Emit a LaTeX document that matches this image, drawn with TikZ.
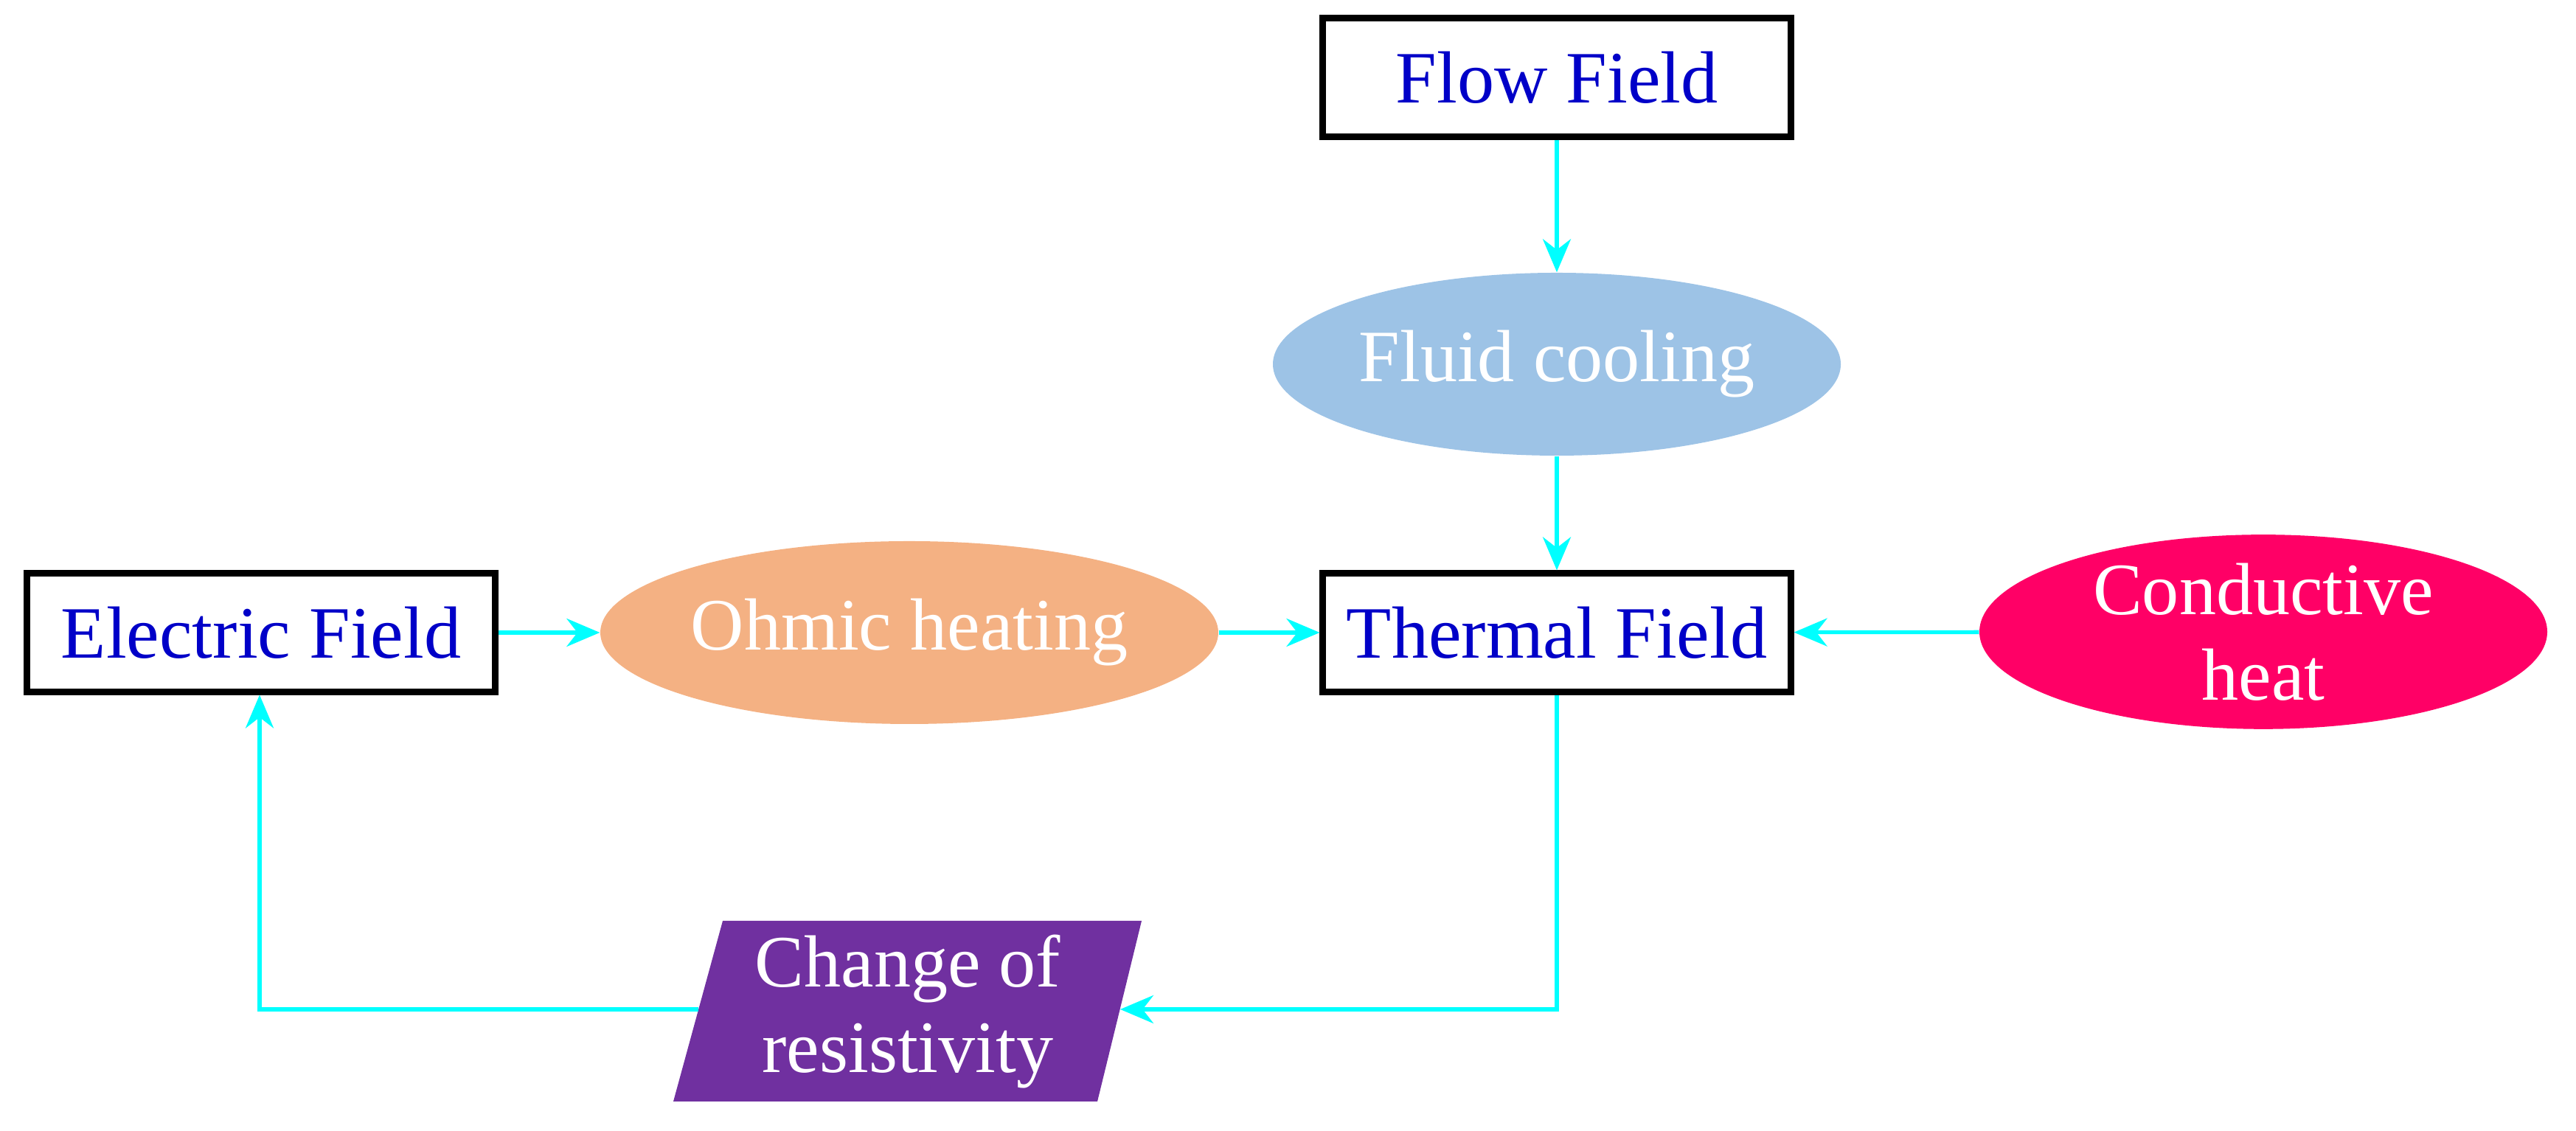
\documentclass[tikz,border=0pt]{standalone}
\usepackage{fontspec}
\setmainfont{Liberation Serif}
\usetikzlibrary{shapes.geometric,arrows.meta}
\definecolor{txtblue}{RGB}{0,0,200}
\definecolor{fluid}{RGB}{157,195,230}
\definecolor{ohmic}{RGB}{244,177,131}
\definecolor{cond}{RGB}{255,0,102}
\definecolor{purp}{RGB}{112,48,160}
\definecolor{conn}{RGB}{0,255,255}
\begin{document}
\begin{tikzpicture}[
  box/.style={draw=black,line width=2.3pt,fill=white,minimum width=6.35cm,minimum height=1.61cm,inner sep=0pt,text=txtblue,font=\fontsize{28.5}{32}\selectfont},
  ell/.style={ellipse,draw=none,minimum width=7.7cm,minimum height=2.48cm,inner sep=0pt,text=white,font=\fontsize{28.5}{32}\selectfont,align=center},
  arr/.style={draw=conn,line width=1.5pt,-{Stealth[length=0.45cm,width=0.38cm]}}
]
\useasboundingbox (0,0) rectangle (34.93,15.34);
\node[box] (flow) at (21.11,14.29) {Flow Field};
\node[ell,fill=fluid] (fluid) at (21.11,10.40) {Fluid cooling};
\node[box] (thermal) at (21.11,6.76) {Thermal Field};
\node[box] (electric) at (3.54,6.76) {Electric Field};
\node[ell,fill=ohmic] (ohmic) at (12.33,6.76) {Ohmic heating};
\node[ell,fill=cond,font=\fontsize{28.5}{33}\selectfont] (cond) at (30.69,6.77) {Conductive\\heat};
\coordinate (p1) at (9.80,2.85);
\coordinate (p2) at (15.48,2.85);
\coordinate (p3) at (14.88,0.40);
\coordinate (p4) at (9.13,0.40);
\fill[purp] (p1) -- (p2) -- (p3) -- (p4) -- cycle;
\node[text=white,align=center,font=\fontsize{28.5}{33}\selectfont] (change) at (12.31,1.62) {Change of\\resistivity};
\coordinate (pr) at (15.19,1.65);
\coordinate (pl) at (9.47,1.65);
\coordinate (c1) at (21.11,1.65);
\coordinate (c2) at (3.52,1.65);
\draw[arr] (flow) -- (fluid);
\draw[arr] (fluid) -- (thermal);
\draw[arr] (electric) -- (ohmic);
\draw[arr] (ohmic) -- (thermal);
\draw[arr] (cond) -- (thermal);
\draw[arr] (thermal.south) -- (c1) -- (pr);
\draw[arr] (pl) -- (c2) -- (electric.south -| c2);
\end{tikzpicture}
\end{document}
